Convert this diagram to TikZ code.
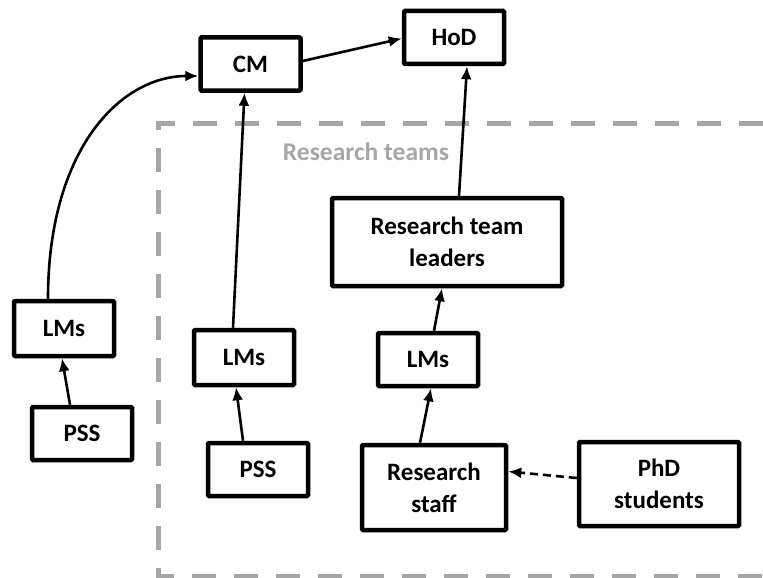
\documentclass[tikz,border=0pt]{standalone}
\usepackage{fontspec}
\setmainfont{Carlito}
\usetikzlibrary{arrows.meta}

\definecolor{teamgrey}{HTML}{A6A6A6}
\tikzset{
  box/.style = {draw, line width=4.5pt, rounded corners=1pt, inner sep=0pt,
                minimum width=100pt, minimum height=53pt, align=center,
                font=\fontsize{25}{32}\selectfont\bfseries},
  link/.style = {line width=2.6pt, -{Latex[length=13pt,width=11pt]}}
}

\begin{document}
\begin{tikzpicture}[x=1pt, y=-1pt]

\useasboundingbox (0,0) rectangle (763,578);

% research teams frame
\draw [teamgrey, line width=5pt, dash pattern=on 24pt off 18pt]
  (763,123) -- (158,123) -- (158,576) -- (763,576);
\node (teams) [text=teamgrey, font=\fontsize{25.5}{30}\selectfont\bfseries] at (366,152) {Research teams};

\node [box] (cm) at (250.5,64) {CM};
\node [box] (hod) at (454,37.5) {HoD};
\node [box, minimum width=230pt, minimum height=88pt] (rtl) at (447,242) {Research team\\leaders};

\node [box, minimum height=55pt] (lmsA) at (64,328.5) {LMs};
\node [box] (pssA) at (82,433.5) {PSS};
\node [box, minimum height=55pt] (lmsB) at (244,357.5) {LMs};
\node [box] (pssB) at (258,469.5) {PSS};
\node [box] (lmsC) at (428,359.5) {LMs};
\node [box, minimum width=144pt, minimum height=85pt] (staff) at (434,487.5) {Research\\staff};
\node [box, minimum width=160pt, minimum height=84pt] (phd) at (659,484) {PhD\\students};

\draw [link] ([xshift=-16pt]lmsA.north) .. controls (48,150) and (120,76) .. ([yshift=-12pt]cm.west);
\draw [link] ([xshift=-11pt]lmsB.north) -- ([xshift=-6pt]cm.south);
\draw [link] ([yshift=3pt]cm.east) -- ([yshift=-1pt]hod.west);
\draw [link] ([xshift=12pt]rtl.north) -- ([xshift=13pt]hod.south);
\draw [link] ([xshift=6pt]lmsC.north) -- ([xshift=-5pt]rtl.south);
\draw [link] ([xshift=-14pt]staff.north) -- ([xshift=3pt]lmsC.south);
\draw [link] ([xshift=-12pt]pssA.north) -- ([xshift=-2pt]lmsA.south);
\draw [link] ([xshift=-15pt]pssB.north) -- ([xshift=-8pt]lmsB.south);
\draw [link, dashed, dash pattern=on 8pt off 5pt] ([yshift=6pt]phd.west) -- ([yshift=16pt]staff.east);

\end{tikzpicture}
\end{document}
